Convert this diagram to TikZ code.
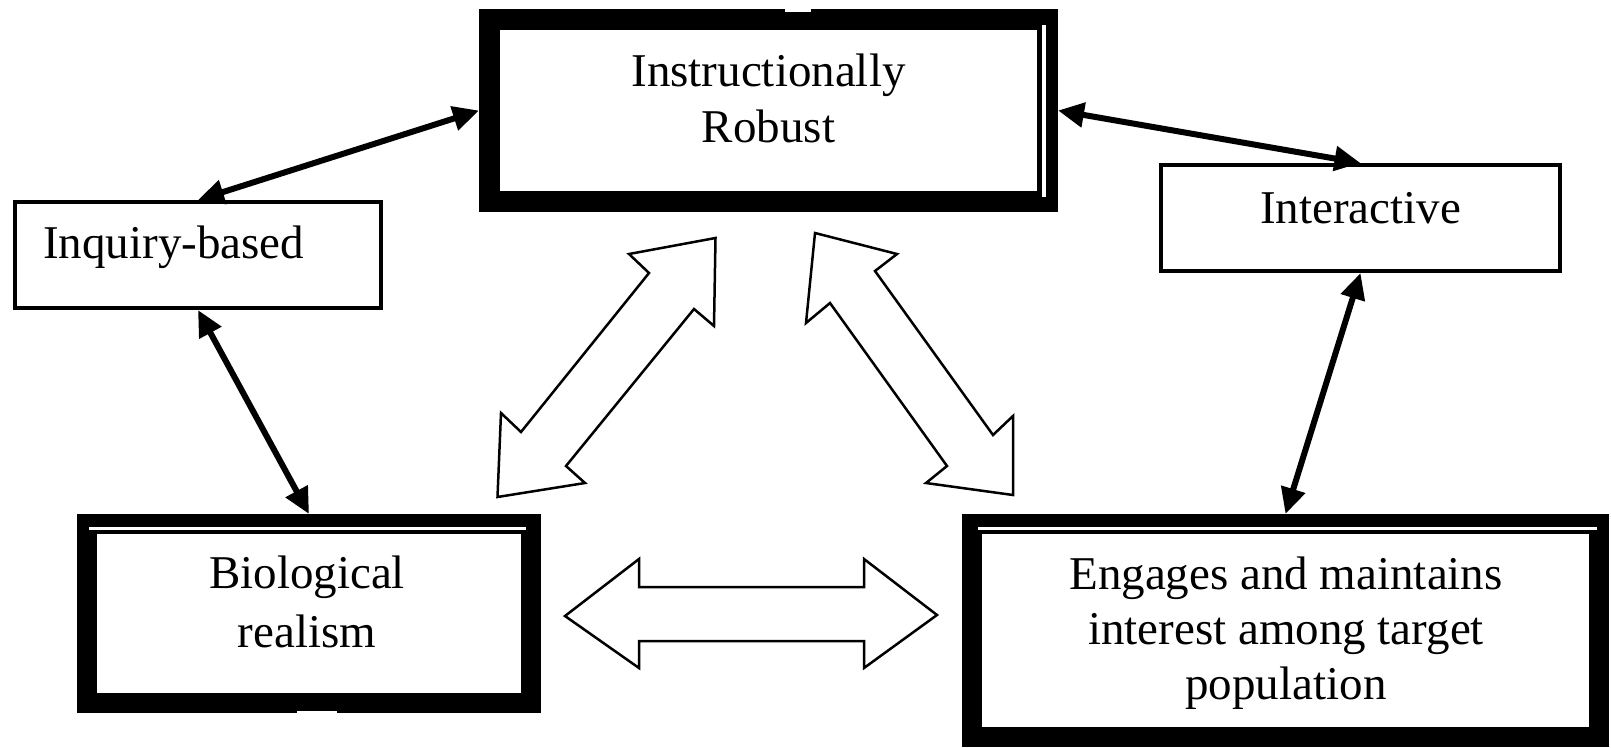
\documentclass[tikz,border=0pt]{standalone}
\usepackage{fontspec}
\setmainfont{Liberation Serif}
\usetikzlibrary{arrows.meta,calc}
\begin{document}
\begin{tikzpicture}[x=1pt,y=-1pt,
  tbox/.style={draw=black, fill=white, inner sep=0pt, line width=21pt, outer sep=10.5pt},
  bbox/.style={draw=black, fill=white, inner sep=0pt, line width=20pt, outer sep=10pt},
  sbox/.style={draw=black, fill=white, inner sep=0pt, line width=4pt, outer sep=2pt},
  lbl/.style={inner sep=0pt, align=center, font=\fontsize{47}{#1}\selectfont},
  lbl/.default=56,
  conn/.style={line width=6pt, {Triangle[length=26pt,width=24pt]}-{Triangle[length=26pt,width=24pt]}},
  blk/.style={draw=black, line width=2.5pt, fill=white, line join=miter},
  gapline/.style={draw=white, line width=#1},
  gapline/.default=3pt
]
\useasboundingbox (0,0) rectangle (1611,747);

% boxes
\node[tbox, minimum width=558pt, minimum height=182pt] (top) at (768.5,110.5) {};
\node[sbox, minimum width=366pt, minimum height=106pt] (inq) at (198,255) {};
\node[sbox, minimum width=399pt, minimum height=106pt] (int) at (1360.5,218) {};
\node[bbox, minimum width=444pt, minimum height=179pt] (bio) at (309,613.5) {};
\node[bbox, minimum width=627pt, minimum height=213pt] (eng) at (1285.5,630.5) {};

% double-line details and notches in the heavy frames
\draw[gapline=4.5pt] ($(top.north east)+(-14,16)$) -- ($(top.south east)+(-14,-15)$);
\draw[gapline] ($(bio.north west)+(12,14.5)$) -- ($(bio.north east)+(-15,14.5)$);
\draw[gapline] ($(eng.north west)+(16,14.5)$) -- ($(eng.north east)+(-12,14.5)$);
\fill[white] ($(top.north)+(16.5,0)$) rectangle ($(top.north)+(42.5,3)$);
\fill[white] ($(bio.south)+(-12,-2.5)$) rectangle ($(bio.south)+(28,0)$);

% texts
\node[lbl] (toptxt) at (768.5,98) {Instructionally\\Robust};
\node[lbl, anchor=base west] (inqtxt) at (43,258) {Inquiry-based};
\node[lbl, anchor=base] (inttxt) at (1360.5,223) {Interactive};
\node[lbl=59] (biotxt) at (307,601.5) {Biological\\realism};
\node[lbl=55] (engtxt) at (1286,633) {Engages and maintains\\interest among target\\population};

% thin double-headed connectors
\draw[conn] (top.west) -- (inq.north);
\draw[conn] (top.east) -- (int.north);
\draw[conn] (inq.south) -- (bio.north);
\draw[conn] (int.south) -- (eng.north);

% hollow block arrows
\draw[blk] (629,254) -- (715.5,238) -- (714,326) -- (694,309) -- (566,466) -- (585,483)
  -- (497.5,497) -- (501,413) -- (521,432) -- (649,273) -- cycle;
\draw[blk] (815,233) -- (897,254) -- (875,271) -- (993,435) -- (1013,416) -- (1013,495)
  -- (926,483) -- (947,466) -- (830,303) -- (806,323) -- cycle;
\draw[blk] (565,616) -- (639,559) -- (639,587) -- (864,587) -- (864,559) -- (937,615)
  -- (864,668) -- (864,641) -- (639,641) -- (639,668) -- cycle;
\end{tikzpicture}
\end{document}
